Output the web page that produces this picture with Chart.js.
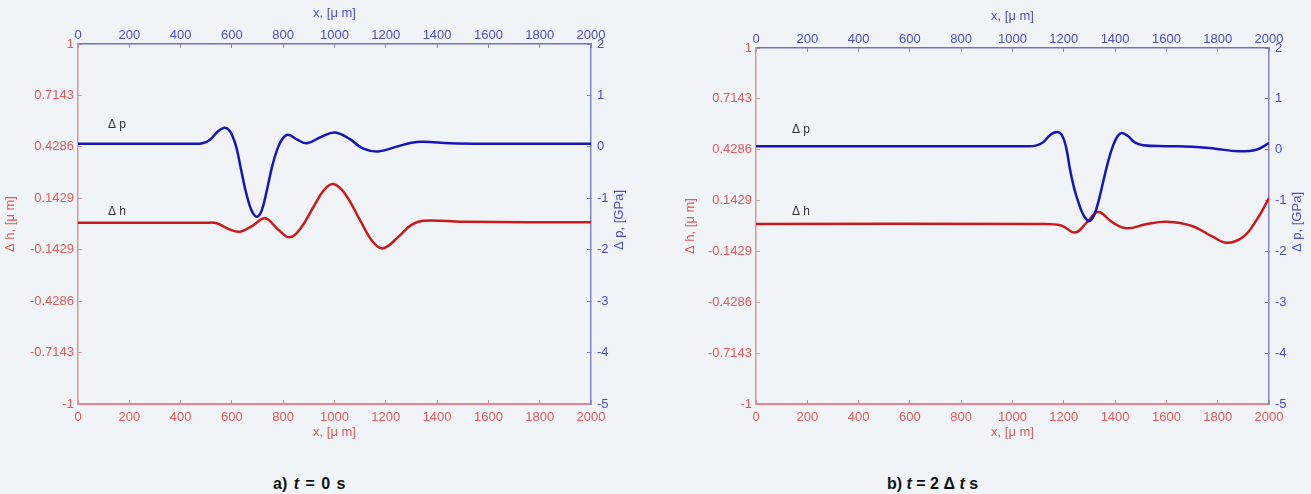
<!DOCTYPE html>
<html>
<head>
<meta charset="utf-8">
<script src="https://cdn.jsdelivr.net/npm/chart.js@4.4.1/dist/chart.umd.min.js"></script>
<style>
    html, body { margin: 0; padding: 0; background: #f0f4f6; }
    body { width: 1311px; height: 494px; position: relative; overflow: hidden; font-family: "Liberation Sans", Arial, sans-serif; }
    canvas { position: absolute; top: 0; }
    #chartA { left: 0; }
    #chartB { left: 656px; }
    .caption { position: absolute; top: 475px; font-weight: bold; font-size: 16px; color: #111; white-space: pre; }
</style>
</head>
<body>
<canvas id="chartA" width="650" height="460"></canvas>
<canvas id="chartB" width="655" height="460"></canvas>
<div class="caption" style="left:273px; word-spacing:2px">a) <i>t</i> = 0 s</div>
<div class="caption" style="left:887px">b) <i>t</i> = 2 &Delta; <i>t</i> s</div>
<script>
// --- Data (x in µm, Δp in GPa, Δh in µm) ---

// panel a) t = 0 s
const xPressA = [0, 450, 485, 515, 545, 570, 588, 603, 618, 634, 650, 665, 681, 698, 716, 736, 756, 776, 796, 819, 855, 893, 950, 1002, 1060, 1110, 1170, 1240, 1300, 1346, 1450, 1600, 2000];
const dpA     = [0.06, 0.06, 0.07, 0.14, 0.3, 0.37, 0.33, 0.2, -0.02, -0.4, -0.78, -1.07, -1.28, -1.36, -1.24, -0.85, -0.4, -0.06, 0.15, 0.235, 0.14, 0.07, 0.2, 0.28, 0.15, -0.03, -0.09, 0.0, 0.08, 0.1, 0.07, 0.06, 0.06];
const xFilmA  = [0, 500, 541, 590, 632, 680, 729, 780, 826, 870, 920, 960, 995, 1040, 1100, 1150, 1190, 1250, 1300, 1346, 1500, 2000];
const dhA     = [0.007, 0.007, 0.004, -0.03, -0.043, -0.01, 0.032, -0.03, -0.074, -0.02, 0.1, 0.19, 0.222, 0.17, 0.02, -0.1, -0.135, -0.07, -0.005, 0.018, 0.012, 0.01];

// panel b) t = 2 Δt s
const xPressB = [0, 1050, 1090, 1118, 1147, 1174, 1192, 1208, 1224, 1240, 1256, 1272, 1288, 1302, 1319, 1336, 1354, 1373, 1392, 1410, 1426, 1450, 1475, 1509, 1600, 1700, 1790, 1880, 1950, 2000];
const dpB     = [0.07, 0.07, 0.08, 0.14, 0.29, 0.35, 0.29, 0.07, -0.38, -0.75, -1.02, -1.24, -1.37, -1.4, -1.28, -1.0, -0.62, -0.23, 0.08, 0.27, 0.33, 0.27, 0.15, 0.09, 0.07, 0.06, 0.02, -0.03, 0.0, 0.13];
const xFilmB  = [0, 1100, 1190, 1244, 1290, 1334, 1390, 1446, 1520, 1602, 1700, 1780, 1836, 1900, 1950, 2000];
const dhB     = [0.011, 0.011, 0.003, -0.037, 0.02, 0.079, 0.02, -0.013, 0.01, 0.024, 0.0, -0.06, -0.094, -0.06, 0.03, 0.156];

// axis ticks
const xTicks = [0, 200, 400, 600, 800, 1000, 1200, 1400, 1600, 1800, 2000];
const hTicks = [-1, -0.7143, -0.4286, -0.1429, 0.1429, 0.4286, 0.7143, 1];
const hTickLabels = ['-1', '-0.7143', '-0.4286', '-0.1429', '0.1429', '0.4286', '0.7143', '1'];
const pTicks = [-5, -4, -3, -2, -1, 0, 1, 2];

// colours
const redLine = '#c8191c';
const blueLine = '#1616b8';
const redText = '#e05a5e';
const blueText = '#4c4cd0';

// --- Plugin: curve labels and the right axis title (reads bottom to top) ---
const extraText = {
    id: 'extraText',
    afterDraw(chart, args, opts) {
        const ctx = chart.ctx;
        const area = chart.chartArea;
        ctx.save();
        ctx.font = '12px "Liberation Sans", Arial, sans-serif';
        ctx.fillStyle = '#333';
        ctx.textBaseline = 'middle';
        opts.labels.forEach(l => {
            const px = chart.scales.x.getPixelForValue(l.x);
            const py = chart.scales[l.axis].getPixelForValue(l.y);
            ctx.fillText(l.text, px, py);
        });
        ctx.font = '13px "Liberation Sans", Arial, sans-serif';
        ctx.translate(area.right + 28, (area.top + area.bottom) / 2 - 4);
        ctx.rotate(-Math.PI / 2);
        ctx.textAlign = 'center';
        ctx.fillStyle = blueText;
        ctx.fillText('\u0394 p, [GPa]', 0, 0);
        ctx.restore();
    }
};

const tickFont = { family: '"Liberation Sans", Arial, sans-serif', size: 13 };

function sizeTo(px) {
    return scale => {
        if (scale.isHorizontal()) scale.height = px;
        else scale.width = px;
    };
}

function axisGrid(color) {
    return { drawOnChartArea: false, drawTicks: true, tickLength: -4, color: color, lineWidth: 1 };
}

function makeChart(id, xp, dp, xf, dh, layout, labels) {
    const pressure = xp.map((x, i) => ({ x: x, y: dp[i] }));
    const film = xf.map((x, i) => ({ x: x, y: dh[i] }));

    return new Chart(document.getElementById(id), {
        type: 'line',
        data: {
            datasets: [
                { label: '\u0394p', data: pressure, xAxisID: 'x', yAxisID: 'yP', borderColor: blueLine, borderWidth: 2.5, pointRadius: 0, tension: 0.4 },
                { label: '\u0394h', data: film, xAxisID: 'x', yAxisID: 'yH', borderColor: redLine, borderWidth: 2.5, pointRadius: 0, tension: 0.4 }
            ]
        },
        options: {
            responsive: false,
            animation: false,
            layout: { padding: 0 },
            plugins: {
                legend: { display: false },
                tooltip: { enabled: false },
                extraText: { labels: labels }
            },
            scales: {
                x: {
                    type: 'linear', position: 'bottom', min: 0, max: 2000, display: true,
                    afterBuildTicks: s => { s.ticks = xTicks.map(v => ({ value: v })); },
                    afterFit: sizeTo(layout.bottom),
                    border: { color: '#ef8090', width: 2 },
                    grid: axisGrid('#b09090'),
                    ticks: { color: redText, font: tickFont, padding: 10, maxRotation: 0, callback: v => String(v) },
                    title: { display: true, text: 'x, [\u03bc m]', color: redText, font: tickFont, padding: { top: 0, bottom: 20 } }
                },
                x2: {
                    type: 'linear', position: 'top', min: 0, max: 2000, display: true,
                    afterBuildTicks: s => { s.ticks = xTicks.map(v => ({ value: v })); },
                    afterFit: sizeTo(layout.top),
                    border: { color: '#6f6fcf', width: 1.5 },
                    grid: axisGrid('#8a8aa8'),
                    ticks: { color: blueText, font: tickFont, padding: 5, maxRotation: 0, callback: v => String(v) },
                    title: { display: true, text: 'x, [\u03bc m]', color: blueText, font: tickFont, padding: { top: layout.topTitle, bottom: 0 } }
                },
                yH: {
                    type: 'linear', position: 'left', min: -1, max: 1, display: true,
                    afterBuildTicks: s => { s.ticks = hTicks.map(v => ({ value: v })); },
                    afterFit: sizeTo(layout.left),
                    border: { color: '#cf9a9a', width: 1.5 },
                    grid: axisGrid('#cf9a9a'),
                    ticks: { color: redText, font: tickFont, padding: 8, callback: (v, i) => hTickLabels[i] },
                    title: { display: true, text: '\u0394 h, [\u03bc m]', color: redText, font: tickFont, padding: { top: layout.leftTitle, bottom: 0 } }
                },
                yP: {
                    type: 'linear', position: 'right', min: -5, max: 2, display: true,
                    afterBuildTicks: s => { s.ticks = pTicks.map(v => ({ value: v })); },
                    afterFit: sizeTo(layout.right),
                    border: { color: '#8585c8', width: 1.5 },
                    grid: axisGrid('#8585c8'),
                    ticks: { color: blueText, font: tickFont, padding: 10, callback: v => String(v) },
                    title: { display: false }
                }
            }
        },
        plugins: [extraText]
    });
}

makeChart('chartA', xPressA, dpA, xFilmA, dhA,
    { left: 78, right: 59, top: 44, bottom: 56, topTitle: 6, leftTitle: 3 },
    [{ text: '\u0394 p', x: 117, y: 0.43, axis: 'yP' }, { text: '\u0394 h', x: 117, y: 0.067, axis: 'yH' }]);

makeChart('chartB', xPressB, dpB, xFilmB, dhB,
    { left: 100, right: 42, top: 48, bottom: 56, topTitle: 9, leftTitle: 27 },
    [{ text: '\u0394 p', x: 140, y: 0.39, axis: 'yP' }, { text: '\u0394 h', x: 140, y: 0.079, axis: 'yH' }]);
</script>
</body>
</html>
